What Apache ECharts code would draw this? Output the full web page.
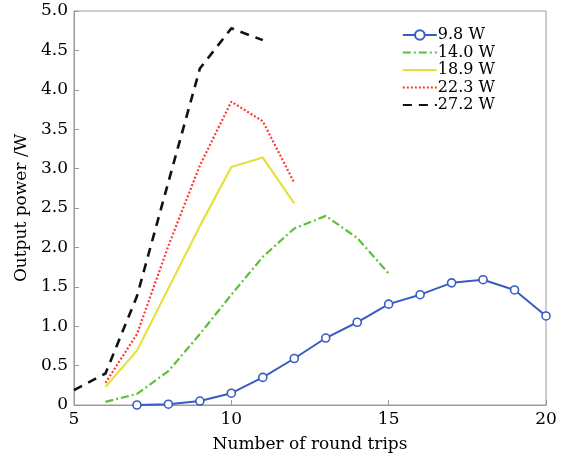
<!DOCTYPE html>
<html>
<head>
<meta charset="utf-8">
<script src="https://cdn.jsdelivr.net/npm/echarts@6/dist/echarts.min.js"></script>
<style>html,body{margin:0;padding:0;background:#fff;}#c{width:561px;height:458px;}</style>
</head>
<body>
<div id="c"></div>
<script>
var seriesNames = ['9.8 W', '14.0 W', '18.9 W', '22.3 W', '27.2 W'];
var x98 = [7, 8, 9, 10, 11, 12, 13, 14, 15, 16, 17, 18, 19, 20];
var y98 = [0.00, 0.01, 0.05, 0.15, 0.35, 0.59, 0.85, 1.05, 1.28, 1.40, 1.55, 1.59, 1.46, 1.13];
var x140 = [6, 7, 8, 9, 10, 11, 12, 13, 14, 15];
var y140 = [0.04, 0.14, 0.43, 0.90, 1.40, 1.88, 2.24, 2.40, 2.12, 1.67];
var x189 = [6, 7, 8, 9, 10, 11, 12];
var y189 = [0.23, 0.69, 1.48, 2.27, 3.02, 3.14, 2.56];
var x223 = [6, 7, 8, 9, 10, 11, 12];
var y223 = [0.28, 0.90, 2.02, 3.04, 3.85, 3.60, 2.82];
var x272 = [5, 6, 7, 8, 9, 10, 11];
var y272 = [0.19, 0.40, 1.38, 2.83, 4.27, 4.78, 4.63];
var xTicks = [5, 10, 15, 20];
var yTicks = [0, 0.5, 1.0, 1.5, 2.0, 2.5, 3.0, 3.5, 4.0, 4.5, 5.0];

function pairs(xs, ys) { return xs.map(function (x, i) { return [x, ys[i]]; }); }

var font = 'DejaVu Serif';
var hidden = {color: 'rgba(0,0,0,0)', borderColor: 'rgba(0,0,0,0)', borderWidth: 0, opacity: 0};
var chart = echarts.init(document.getElementById('c'), null, {renderer: 'canvas'});
chart.setOption({
  animation: false,
  backgroundColor: '#fff',
  grid: {left: 74, right: 15, top: 11, bottom: 53, show: true, borderColor: '#9a9a9a', borderWidth: 1},
  legend: {
    orient: 'vertical',
    right: 61, top: 22,
    itemWidth: 34, itemHeight: 12, itemGap: 1.5,
    textStyle: {fontFamily: font, fontSize: 16, lineHeight: 16, color: '#000', padding: [0, 0, 0, -4]},
    data: [
      {name: seriesNames[0]},
      {name: seriesNames[1], itemStyle: hidden},
      {name: seriesNames[2], itemStyle: hidden},
      {name: seriesNames[3], itemStyle: hidden},
      {name: seriesNames[4], itemStyle: hidden}
    ]
  },
  xAxis: {
    type: 'value', min: xTicks[0], max: xTicks[xTicks.length - 1], interval: 5,
    name: 'Number of round trips', nameLocation: 'middle', nameGap: 31,
    nameTextStyle: {fontFamily: font, fontSize: 17, color: '#000'},
    axisLine: {lineStyle: {color: '#9a9a9a', width: 1}},
    axisTick: {inside: true, length: 5, lineStyle: {color: '#9a9a9a'}},
    axisLabel: {fontFamily: font, fontSize: 17, color: '#000', margin: 6},
    splitLine: {show: false}
  },
  yAxis: {
    type: 'value', min: yTicks[0], max: yTicks[yTicks.length - 1], interval: 0.5,
    name: 'Output power /W', nameLocation: 'middle', nameGap: 41, nameRotate: 90,
    nameTextStyle: {fontFamily: font, fontSize: 17, color: '#000'},
    axisLine: {show: true, lineStyle: {color: '#9a9a9a', width: 1}},
    axisTick: {show: true, inside: true, length: 5, lineStyle: {color: '#9a9a9a'}},
    axisLabel: {fontFamily: font, fontSize: 17, color: '#000', margin: 6,
      formatter: function (v) { return v === 0 ? '0' : v.toFixed(1); }},
    splitLine: {show: false}
  },
  series: [
    {name: seriesNames[0], type: 'line', data: pairs(x98, y98), symbol: 'circle', symbolSize: 8,
      itemStyle: {color: '#fff', borderColor: '#3a5bc2', borderWidth: 1.6},
      lineStyle: {color: '#3a5bc2', width: 2}, color: '#3a5bc2', z: 5},
    {name: seriesNames[1], type: 'line', data: pairs(x140, y140), symbol: 'none',
      lineStyle: {color: '#5cc03a', width: 2.2, type: [8, 3, 2, 3]}, itemStyle: {color: '#5cc03a'}},
    {name: seriesNames[2], type: 'line', data: pairs(x189, y189), symbol: 'none',
      lineStyle: {color: '#e6e13a', width: 2.2}, itemStyle: {color: '#e6e13a'}},
    {name: seriesNames[3], type: 'line', data: pairs(x223, y223), symbol: 'none',
      lineStyle: {color: '#ff3b2f', width: 2.2, type: [2, 2]}, itemStyle: {color: '#ff3b2f'}},
    {name: seriesNames[4], type: 'line', data: pairs(x272, y272), symbol: 'none',
      lineStyle: {color: '#111', width: 2.6, type: [9, 7]}, itemStyle: {color: '#111'}}
  ]
});
</script>
</body>
</html>
